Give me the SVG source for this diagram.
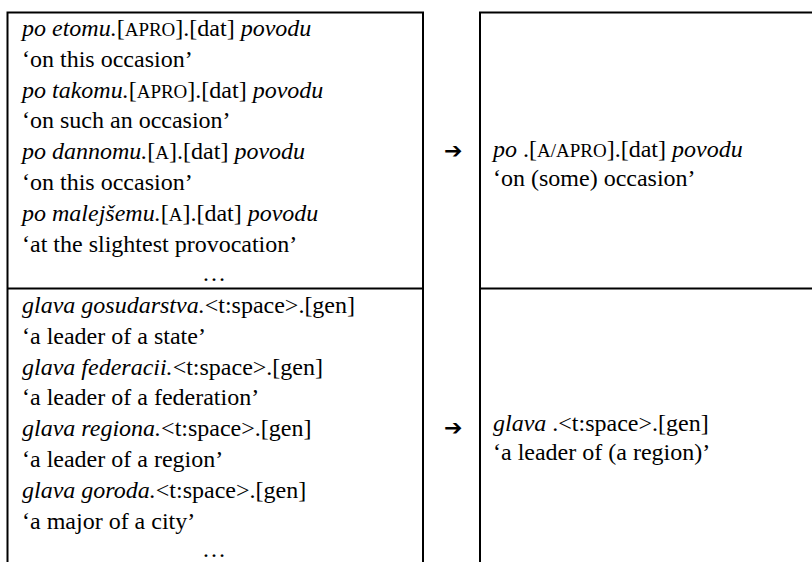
<svg xmlns="http://www.w3.org/2000/svg" width="812" height="562" viewBox="0 0 812 562">
  <style>
    .grid { stroke: #000; stroke-width: 2; fill: none; }
    .txt { font-family: "Liberation Serif", "Times New Roman", serif; font-size: 24px; fill: #000; }
    .it { font-style: italic; }
    .sc { font-size: 19px; }
    .arrow { font-family: "DejaVu Sans", sans-serif; font-size: 22px; font-weight: bold; }
  </style>

  <!-- table rules -->
  <g id="connectors">
    <path class="grid" d="M7.5 562 V12.5 H423 V562 M7.5 288.5 H423"/>
    <path class="grid" d="M480 562 V12.5 H812 M480 288.5 H812"/>
  </g>

  <g class="txt">
  <!-- row 1, source constructions -->
  <g id="row1-source">
    <text x="22" y="36"><tspan class="it">po etomu.</tspan>[<tspan class="sc">APRO</tspan>].[dat] <tspan class="it">povodu</tspan></text>
    <text x="22" y="67">‘on this occasion’</text>
    <text x="22" y="98"><tspan class="it">po takomu.</tspan>[<tspan class="sc">APRO</tspan>].[dat] <tspan class="it">povodu</tspan></text>
    <text x="22" y="128">‘on such an occasion’</text>
    <text x="22" y="159"><tspan class="it">po dannomu.</tspan>[<tspan class="sc">A</tspan>].[dat] <tspan class="it">povodu</tspan></text>
    <text x="22" y="190">‘on this occasion’</text>
    <text x="22" y="221"><tspan class="it">po malejšemu.</tspan>[<tspan class="sc">A</tspan>].[dat] <tspan class="it">povodu</tspan></text>
    <text x="22" y="252">‘at the slightest provocation’</text>
    <text x="214" y="281" text-anchor="middle">…</text>
  </g>

  <g id="row1-target">
    <text x="493" y="157"><tspan class="it">po</tspan> .[<tspan class="sc">A/APRO</tspan>].[dat] <tspan class="it">povodu</tspan></text>
    <text x="493" y="186">‘on (some) occasion’</text>
  </g>

  <!-- row 2, source constructions -->
  <g id="row2-source">
    <text x="22" y="313"><tspan class="it">glava gosudarstva.</tspan>&lt;t:space&gt;.[gen]</text>
    <text x="22" y="344">‘a leader of a state’</text>
    <text x="22" y="375"><tspan class="it">glava federacii.</tspan>&lt;t:space&gt;.[gen]</text>
    <text x="22" y="405">‘a leader of a federation’</text>
    <text x="22" y="436"><tspan class="it">glava regiona.</tspan>&lt;t:space&gt;.[gen]</text>
    <text x="22" y="467">‘a leader of a region’</text>
    <text x="22" y="498"><tspan class="it">glava goroda.</tspan>&lt;t:space&gt;.[gen]</text>
    <text x="22" y="529">‘a major of a city’</text>
    <text x="214" y="557" text-anchor="middle">…</text>
  </g>

  <g id="row2-target">
    <text x="493" y="431"><tspan class="it">glava</tspan> .&lt;t:space&gt;.[gen]</text>
    <text x="493" y="460">‘a leader of (a region)’</text>
  </g>
  </g>

  <g id="row1-arrow">
    <text class="arrow" x="444" y="158">➔</text>
  </g>
  <g id="row2-arrow">
    <text class="arrow" x="444" y="435">➔</text>
  </g>
</svg>
